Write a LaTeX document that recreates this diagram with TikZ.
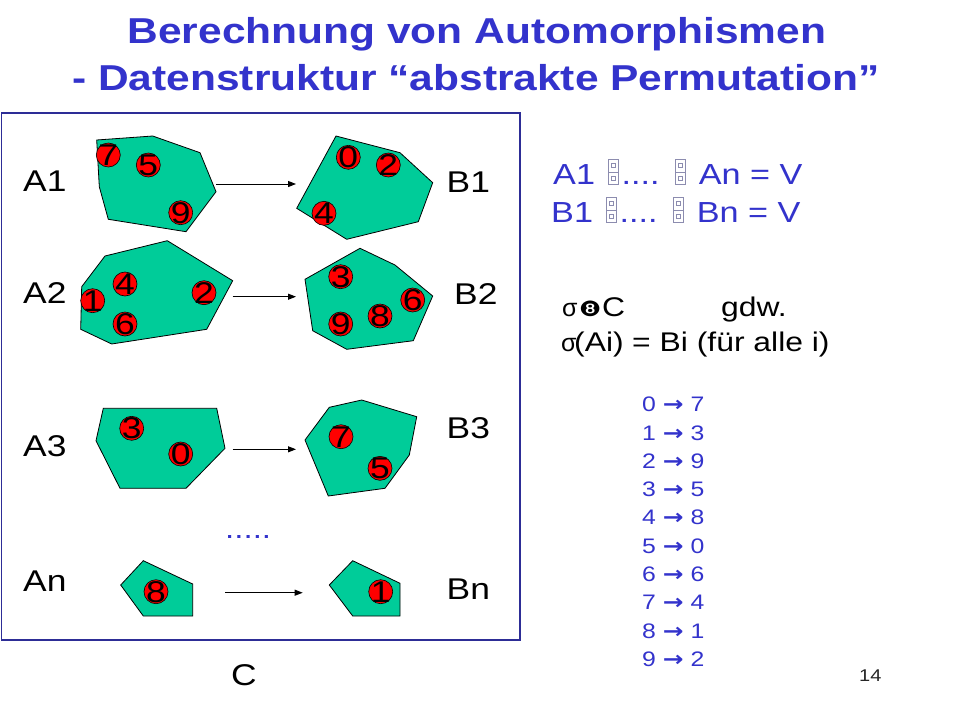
\documentclass[tikz,border=0pt]{standalone}
\usepackage{fontspec}
\setmainfont{Liberation Sans}[FakeStretch=1.18]
\newfontfamily\djv{DejaVu Sans}[FakeStretch=1.18]
\newfontfamily\plainsans{Liberation Sans}
\usetikzlibrary{arrows.meta}
\definecolor{tblue}{RGB}{51,51,204}
\definecolor{tgreen}{RGB}{0,204,153}
\definecolor{fnavy}{RGB}{45,45,150}
\definecolor{tofugray}{RGB}{140,140,175}
\newcommand\fsz[1]{\fontsize{#1}{#1}\selectfont}
\newcommand\tofu[1]{\hbox to #1pt{\hss\tikz[x=1pt,y=1pt,baseline=0pt,line width=0.6pt]{%
  \draw[tofugray] (0,0) rectangle (10,25); \draw[tofugray] (0,12.5)--(10,12.5);
  \draw[tofugray] (3,17) rectangle (7,21); \draw[tofugray] (3,4.5) rectangle (7,8.5);}\hss}}
\tikzset{
  blk/.style={fill=tgreen,draw=black,line width=0.8pt},
  num/.style={circle,fill=red,draw=black,line width=0.6pt,minimum size=24pt,inner sep=0pt},
  numtxt/.style={font=\fsz{30},inner sep=0pt,text=black},
  lbl/.style={anchor=base west,inner sep=0pt,font=\fsz{30},text=black},
  ttl/.style={anchor=base,inner sep=0pt,font=\fsz{36}\bfseries,text=tblue},
  rtxt/.style={anchor=base west,inner sep=0pt,font=\fsz{29},text=tblue},
  stxt/.style={anchor=base west,inner sep=0pt,font=\fsz{27},text=black},
  sigma/.style={anchor=base west,inner sep=0pt,font=\fsz{25}\plainsans,text=black},
  map/.style={anchor=base west,inner sep=0pt,font=\fsz{21},text=tblue},
  conn/.style={draw=black,line width=1pt,-{Triangle[length=8pt,width=6pt]}}
}
\begin{document}
\begin{tikzpicture}[x=1pt,y=-1pt]
\useasboundingbox (0,0) rectangle (960,720);
\fill[white] (0,0) rectangle (960,720);

% title
\node[ttl] (t1) at (477,43) {Berechnung von Automorphismen};
\node[ttl] (t2) at (476,90) {- Datenstruktur “abstrakte Permutation”};

% frame
\draw[fnavy,line width=1.2pt] (1.5,113) rectangle (520,640);

% polygons
\draw[blk] (96.7,140) -- (152.7,136) -- (200,152.7) -- (216,191.7) -- (186,231.7) -- (108.3,219.3) -- (99.3,186.7) -- cycle;
\draw[blk] (336,136) -- (400,152.7) -- (432.7,182.7) -- (418.3,221.7) -- (346.7,239.3) -- (296.7,208.3) -- cycle;
\draw[blk] (105,256) -- (167.3,240.7) -- (232.7,280.7) -- (206.7,329.3) -- (111.7,344) -- (80.7,329.3) -- (81.7,286.7) -- cycle;
\draw[blk] (305,279.3) -- (360,248.3) -- (395,265) -- (432.7,296) -- (413.3,340.7) -- (346.7,349.3) -- (312.7,330.7) -- cycle;
\draw[blk] (103.3,408.3) -- (216.7,408.3) -- (225,448.3) -- (186,488.3) -- (120,488.3) -- (96,440.7) -- cycle;
\draw[blk] (329.3,407.3) -- (361.7,400) -- (416.7,416.7) -- (409.3,455) -- (385,488.3) -- (328.3,496) -- (305,440) -- cycle;
\draw[blk] (143.3,560.7) -- (192.7,584) -- (192.7,616) -- (143.3,616) -- (120.7,585) -- cycle;
\draw[blk] (352.7,560.7) -- (400,583.3) -- (400,616) -- (352.7,616) -- (329.3,585) -- cycle;

% numbered circles
\node[num,label={[numtxt]center:7}] (a1n7) at (108.3,155) {};
\node[num,label={[numtxt]center:5}] (a1n5) at (148.3,165) {};
\node[num,label={[numtxt]center:9}] (a1n9) at (180.7,212.7) {};
\node[num,label={[numtxt]center:0}] (b1n0) at (348.3,157.3) {};
\node[num,label={[numtxt]center:2}] (b1n2) at (388.3,165) {};
\node[num,label={[numtxt]center:4}] (b1n4) at (324,213.3) {};
\node[num,label={[numtxt]center:1}] (a2n1) at (92.7,300.7) {};
\node[num,label={[numtxt]center:4}] (a2n4) at (125,284) {};
\node[num,label={[numtxt]center:6}] (a2n6) at (125,324) {};
\node[num,label={[numtxt]center:2}] (a2n2) at (204,292.7) {};
\node[num,label={[numtxt]center:3}] (b2n3) at (340.7,276.7) {};
\node[num,label={[numtxt]center:9}] (b2n9) at (340.7,324) {};
\node[num,label={[numtxt]center:8}] (b2n8) at (380,316) {};
\node[num,label={[numtxt]center:6}] (b2n6) at (412.7,300) {};
\node[num,label={[numtxt]center:3}] (a3n3) at (131.7,428.3) {};
\node[num,label={[numtxt]center:0}] (a3n0) at (180.7,454) {};
\node[num,label={[numtxt]center:7}] (b3n7) at (341,436.7) {};
\node[num,label={[numtxt]center:5}] (b3n5) at (380,468.3) {};
\node[num,label={[numtxt]center:8}] (ann8) at (156,591.7) {};
\node[num,label={[numtxt]center:1}] (bnn1) at (380.7,591.7) {};

% arrows
\coordinate (s1) at (216,184);   \coordinate (e1) at (296,184);
\coordinate (s2) at (232.7,296.7); \coordinate (e2) at (296,296.7);
\coordinate (s3) at (232.7,449.3); \coordinate (e3) at (296,449.3);
\coordinate (s4) at (225,592.7);   \coordinate (e4) at (302.7,592.7);
\draw[conn] (s1) -- (e1);
\draw[conn] (s2) -- (e2);
\draw[conn] (s3) -- (e3);
\draw[conn] (s4) -- (e4);

% labels
\node[lbl] (la1) at (23,191.7) {A1};
\node[lbl] (la2) at (23,303.3) {A2};
\node[lbl] (la3) at (23,456) {A3};
\node[lbl] (lan) at (23,591.7) {An};
\node[lbl] (lb1) at (446.5,192.3) {B1};
\node[lbl] (lb2) at (454,304.3) {B2};
\node[lbl] (lb3) at (446.5,438.3) {B3};
\node[lbl] (lbn) at (446.5,599.3) {Bn};
\node[lbl] (lc) at (231,685) {C};
\node[anchor=base west,inner sep=0pt,font=\fsz{28},text=tblue] (dots) at (225,538) {.....};

% right text
\node[rtxt] (r1) at (553,184.3) {A1 \tofu{17}.... \tofu{17} An = V};
\node[rtxt] (r2) at (551,222.7) {B1 \tofu{17}.... \tofu{17} Bn = V};

\node[sigma] (s1a) at (562,316) {σ};
\node[stxt,font=\fsz{21}\djv] (s1b) at (579,316) {❽};
\node[stxt] (s1c) at (602,316) {C};
\node[stxt] (s1d) at (721,316) {gdw.};
\node[sigma] (s2a) at (561,351.7) {σ};
\node[stxt] (s2b) at (574,351.7) {(Ai)};
\node[stxt] (s2c) at (632,351.7) {= Bi (für alle i)};

% mapping list
\foreach \a/\b [count=\k from 0] in {0/7,1/3,2/9,3/5,4/8,5/0,6/6,7/4,8/1,9/2}{
  \node[map] (m\k) at (642,411.7+28.3*\k) {\a\ {\djv\bfseries →} \b};
}

\node[anchor=base west,inner sep=0pt,font=\fsz{17},text=black!85] (pg) at (859,681) {14};
\end{tikzpicture}
\end{document}
